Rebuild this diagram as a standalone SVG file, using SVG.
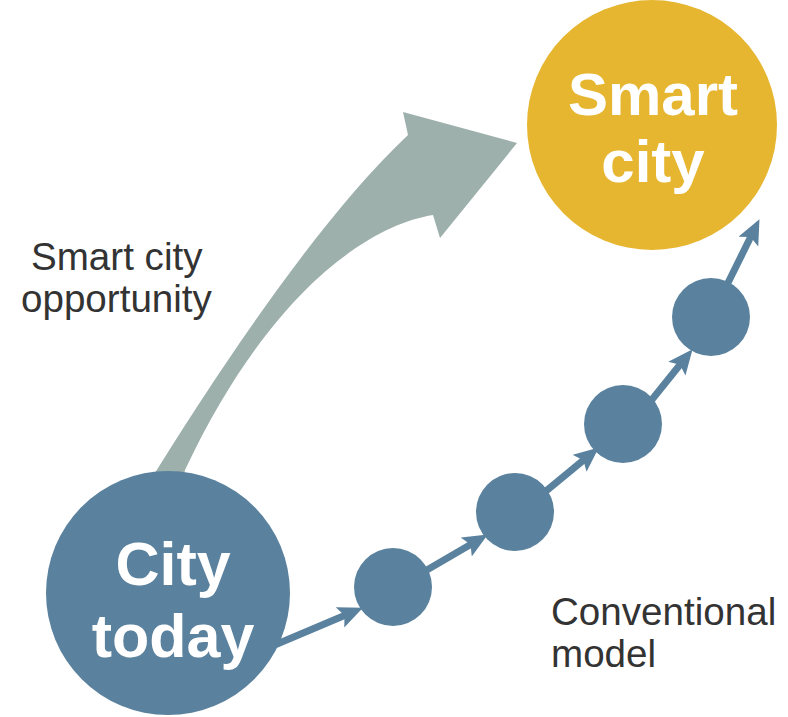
<svg xmlns="http://www.w3.org/2000/svg" width="788" height="717" viewBox="0 0 788 717">
<style>
.blue{fill:#5A819D}
.lbl{font-family:"Liberation Sans",Arial,sans-serif;fill:#333333;font-size:38.6px}
.big{font-family:"Liberation Sans",Arial,sans-serif;font-weight:bold;fill:#ffffff;text-anchor:middle}
.conn{stroke:#5A819D;stroke-width:7;fill:none;marker-end:url(#ah)}
</style>
<defs>
<marker id="ah" markerUnits="userSpaceOnUse" markerWidth="26" markerHeight="24" refX="12" refY="11" orient="auto" viewBox="0 0 26 24">
<path d="M0,0 L25,11 L0,22 L5,11 Z" fill="#5A819D"/>
</marker>
</defs>
<rect width="788" height="717" fill="#ffffff"/>
<g id="opportunity-arrow">
<path d="M150,495 L155,473 C210,385 315,222 408,135 L403,112 L517,143 L440,238 L433,215 C370,225 270,290 185,470 L180,495 Z" fill="#9DB0AC"/>
</g>
<g id="connectors">
<path class="conn" d="M270,647 L351,612.7"/>
<path class="conn" d="M420,574 L476.6,541"/>
<path class="conn" d="M540,496 L588.8,455.7"/>
<path class="conn" d="M646,407 L684.4,359.3"/>
<path class="conn" d="M722,295 L753.7,230.8"/>
</g>
<g id="city-today">
<circle class="blue" cx="168" cy="593" r="122"/>
<text class="big" x="173" y="585" font-size="61">City</text>
<text class="big" x="173" y="657" font-size="61">today</text>
</g>
<g id="smart-city">
<circle cx="652" cy="125" r="125" fill="#E6B631"/>
<text class="big" x="653" y="115" font-size="60">Smart</text>
<text class="big" x="653" y="182" font-size="60">city</text>
</g>
<g id="step1"><circle class="blue" cx="393" cy="587" r="39"/></g>
<g id="step2"><circle class="blue" cx="515" cy="512" r="39"/></g>
<g id="step3"><circle class="blue" cx="623" cy="424" r="39"/></g>
<g id="step4"><circle class="blue" cx="711" cy="317" r="39"/></g>
<g id="label-opportunity">
<text class="lbl" x="31" y="270">Smart city</text>
<text class="lbl" x="21" y="312">opportunity</text>
</g>
<g id="label-conventional">
<text class="lbl" x="551" y="625">Conventional</text>
<text class="lbl" x="551" y="667">model</text>
</g>
</svg>
